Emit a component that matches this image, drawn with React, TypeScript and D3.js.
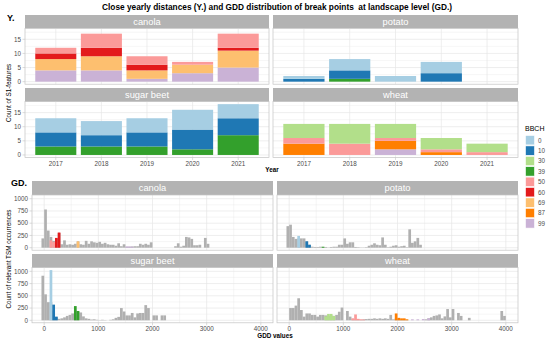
import React from 'react';
import * as d3 from 'd3';

const years = ['2017', '2018', '2019', '2020', '2021'];
const bbchLevels = ['0', '10', '30', '39', '50', '60', '69', '87', '99'];
const bbchColors = ['#a6cee3', '#1f78b4', '#b2df8a', '#33a02c', '#fb9a99', '#e31a1c', '#fdbf6f', '#ff7f00', '#cab2d6'];
const crops = ['canola', 'potato', 'sugar beet', 'wheat'];

// Y. : count of S1-features per year, by BBCH stage
const canolaYearly: Record<string, number[]> = { '50': [2, 5, 3, 1, 5], '60': [2, 3, 2, 0, 1], '69': [4, 5, 3, 3, 6], '99': [4, 4, 1, 3, 5] };
const potatoYearly: Record<string, number[]> = { '0': [1, 4, 2, 4, 0], '10': [1, 3, 0, 3, 0], '39': [0, 1, 0, 0, 0] };
const sugarBeetYearly: Record<string, number[]> = { '0': [5, 5, 5, 7, 5], '10': [5, 4, 5, 7, 6], '39': [3, 3, 3, 2, 7] };
const wheatYearly: Record<string, number[]> = { '30': [5, 7, 5, 4, 3], '50': [2, 4, 1, 1, 1], '87': [4, 0, 3, 1, 0], '99': [0, 0, 2, 0, 0] };

// GD. : TSM occurrences per GDD bin (bins of 50 starting at -50)
const gddBinStart = -50;
const gddBinWidth = 50;
const canolaGdd = [
  190, 780, 350, 220, 140, 180, 300, 70, 150, 60,
  70, 60, 80, 130, 70, 60, 140, 80, 130, 110,
  100, 120, 80, 100, 70, 60, 60, 40, 90, 30,
  70, 20, 20, 25, 30, 30, 80, 60, 80, 60,
  110, 0, 0, 0, 0, 0, 0, 0, 0, 30,
  90, 20, 40, 220, 210, 180, 50, 50, 60, 0,
  200, 80];
const potatoGdd = [
  440, 470, 220, 180, 190, 190, 190, 130, 60, 20,
  15, 15, 20, 15, 15, 5, 15, 20, 20, 60,
  60, 190, 80, 110, 110, 15, 10, 5, 5, 10,
  40, 60, 90, 60, 50, 210, 60, 10, 20, 40,
  50, 20, 30, 40, 10, 375, 100, 130, 200, 60];
const sugarBeetGdd = [
  910, 530, 370, 370, 200, 60, 30, 40, 60, 90,
  110, 140, 200, 170, 160, 80, 40, 30, 15, 20,
  10, 5, 10, 5, 0, 10, 20, 50, 70, 250,
  180, 100, 100, 150, 60, 140, 150, 150, 310, 250,
  0, 100, 100, 0, 100, 100];
const wheatGdd = [
  0, 250, 250, 300, 450, 210, 75, 140, 140, 110,
  110, 75, 110, 110, 100, 90, 100, 90, 110, 175,
  260, 0, 190, 75, 30, 20, 20, 10, 20, 25,
  30, 30, 40, 30, 40, 30, 40, 30, 110, 20,
  40, 30, 20, 20, 10, 0, 0, 0, 0, 0,
  0, 20, 40, 60, 90, 100, 120, 40, 80, 230,
  60, 230, 0, 150, 90, 0, 0, 50, 0, 0,
  0, 0, 0, 0, 0, 0, 0, 0, 0, 190,
  90];

// break points: [BBCH, bin start, count]
const canolaBreaks: [string, number, number][] = [
  ['50', 100, 150], ['50', 150, 120], ['60', 200, 200], ['60', 250, 310],
  ['69', 600, 130], ['99', 1500, 25], ['99', 1550, 25], ['99', 1600, 20]];
const potatoBreaks: [string, number, number][] = [
  ['0', 150, 240], ['10', 300, 130], ['10', 350, 60], ['39', 600, 20]];
const sugarBeetBreaks: [string, number, number][] = [
  ['0', 100, 1025], ['10', 150, 320], ['10', 200, 75], ['39', 550, 290], ['39', 600, 190]];
const wheatBreaks: [string, number, number][] = [
  ['30', 650, 80], ['30', 700, 130], ['30', 750, 130], ['30', 800, 90],
  ['50', 1150, 40], ['50', 1200, 120], ['50', 1250, 30], ['50', 1300, 20], ['50', 1350, 15],
  ['87', 1950, 140], ['87', 2000, 50], ['87', 2050, 40], ['87', 2100, 40], ['87', 2150, 20],
  ['99', 2250, 20], ['99', 2350, 20], ['99', 2450, 25], ['99', 2550, 40]];

const yearlyByCrop = [canolaYearly, potatoYearly, sugarBeetYearly, wheatYearly];
const gddByCrop = [canolaGdd, potatoGdd, sugarBeetGdd, wheatGdd];
const breaksByCrop = [canolaBreaks, potatoBreaks, sugarBeetBreaks, wheatBreaks];

const color = d3.scaleOrdinal<string, string>().domain(bbchLevels).range(bbchColors);
const font = 'Liberation Sans, Arial, sans-serif';
const gridCol = '#e6e6e6';
const borderCol = '#c4c4c4';
const stripCol = '#b3b3b3';
const tickCol = '#4d4d4d';

const topCols = [[25, 269], [273, 518]];
const topRows = [{ strip: 15, y0: 28.3, y1: 84.2 }, { strip: 88, y0: 101.6, y1: 157.5 }];
const botCols = [[32, 273], [277, 518]];
const botRows = [{ strip: 181, y0: 195, y1: 250.2 }, { strip: 254, y0: 267.6, y1: 322.8 }];

function Strip({ x0, x1, y0, y1, label }: any) {
  return (
    <g>
      <rect x={x0} y={y0} width={x1 - x0} height={y1 - y0} fill={stripCol} />
      <text x={(x0 + x1) / 2} y={(y0 + y1) / 2 + 3.3} textAnchor="middle" fill="#fff" fontSize={9.3} fontFamily={font}>{label}</text>
    </g>
  );
}

function YearPanel({ ci }: { ci: number }) {
  const col = topCols[ci % 2];
  const row = topRows[Math.floor(ci / 2)];
  const x = d3.scaleBand().domain(years).range(col as [number, number]).paddingInner(0.1).paddingOuter(0.225);
  const y = d3.scaleLinear().domain([-0.9, 18.9]).range([row.y1, row.y0]);
  const data = yearlyByCrop[ci];
  const keys = [...bbchLevels].reverse().filter(k => data[k]);
  const table = years.map((yr, i) => {
    const o: any = { year: yr };
    keys.forEach(k => { o[k] = data[k][i]; });
    return o;
  });
  const series = d3.stack().keys(keys)(table);
  const showX = Math.floor(ci / 2) === 1;
  const showY = ci % 2 === 0;
  return (
    <g>
      <Strip x0={col[0]} x1={col[1]} y0={row.strip} y1={row.y0} label={crops[ci]} />
      {[2.5, 7.5, 12.5, 17.5].map(v => <line key={'m' + v} x1={col[0]} x2={col[1]} y1={y(v)} y2={y(v)} stroke={gridCol} strokeWidth={0.35} />)}
      {[0, 5, 10, 15].map(v => <line key={'M' + v} x1={col[0]} x2={col[1]} y1={y(v)} y2={y(v)} stroke={gridCol} strokeWidth={0.7} />)}
      {years.map(yr => <line key={yr} x1={x(yr)! + x.bandwidth() / 2} x2={x(yr)! + x.bandwidth() / 2} y1={row.y0} y2={row.y1} stroke={gridCol} strokeWidth={0.7} />)}
      {series.map(s => s.map((d, i) => d[1] > d[0] ? (
        <rect key={s.key + i} x={x(years[i])} width={x.bandwidth()} y={y(d[1])} height={y(d[0]) - y(d[1])} fill={color(s.key)} />
      ) : null))}
      <rect x={col[0]} y={row.y0} width={col[1] - col[0]} height={row.y1 - row.y0} fill="none" stroke={borderCol} strokeWidth={0.7} />
      {showY && [0, 5, 10, 15].map(v => (
        <g key={'t' + v}>
          <line x1={col[0] - 2.5} x2={col[0]} y1={y(v)} y2={y(v)} stroke={borderCol} strokeWidth={0.6} />
          <text x={col[0] - 4} y={y(v) + 2.2} textAnchor="end" fontSize={6.3} fill={tickCol} fontFamily={font}>{v}</text>
        </g>
      ))}
      {showX && years.map(yr => (
        <g key={'x' + yr}>
          <line x1={x(yr)! + x.bandwidth() / 2} x2={x(yr)! + x.bandwidth() / 2} y1={row.y1} y2={row.y1 + 2.5} stroke={borderCol} strokeWidth={0.6} />
          <text x={x(yr)! + x.bandwidth() / 2} y={row.y1 + 8.5} textAnchor="middle" fontSize={6.3} fill={tickCol} fontFamily={font}>{yr}</text>
        </g>
      ))}
    </g>
  );
}

function GddPanel({ ci }: { ci: number }) {
  const col = botCols[ci % 2];
  const row = botRows[Math.floor(ci / 2)];
  const x = d3.scaleLinear().domain([-225, 4225]).range(col as [number, number]);
  const y = d3.scaleLinear().domain([-51, 1076]).range([row.y1, row.y0]);
  const counts = gddByCrop[ci];
  const breaks = breaksByCrop[ci];
  const showX = Math.floor(ci / 2) === 1;
  const showY = ci % 2 === 0;
  return (
    <g>
      <Strip x0={col[0]} x1={col[1]} y0={row.strip} y1={row.y0} label={crops[ci]} />
      {[125, 375, 625, 875].map(v => <line key={'m' + v} x1={col[0]} x2={col[1]} y1={y(v)} y2={y(v)} stroke={gridCol} strokeWidth={0.35} />)}
      {[500, 1500, 2500, 3500].map(v => <line key={'mx' + v} x1={x(v)} x2={x(v)} y1={row.y0} y2={row.y1} stroke={gridCol} strokeWidth={0.35} />)}
      {[0, 250, 500, 750, 1000].map(v => <line key={'M' + v} x1={col[0]} x2={col[1]} y1={y(v)} y2={y(v)} stroke={gridCol} strokeWidth={0.7} />)}
      {[0, 1000, 2000, 3000, 4000].map(v => <line key={'Mx' + v} x1={x(v)} x2={x(v)} y1={row.y0} y2={row.y1} stroke={gridCol} strokeWidth={0.7} />)}
      {counts.map((c, i) => c > 0 ? (
        <rect key={'g' + i} x={x(gddBinStart + i * gddBinWidth)} width={x(gddBinWidth) - x(0)} y={y(c)} height={y(0) - y(c)} fill="#b0b0b0" />
      ) : null)}
      {breaks.map(([b, start, c], i) => (
        <rect key={'b' + i} x={x(start)} width={x(gddBinWidth) - x(0)} y={y(c)} height={y(0) - y(c)} fill={color(b)} />
      ))}
      <rect x={col[0]} y={row.y0} width={col[1] - col[0]} height={row.y1 - row.y0} fill="none" stroke={borderCol} strokeWidth={0.7} />
      {showY && [0, 250, 500, 750, 1000].map(v => (
        <g key={'t' + v}>
          <line x1={col[0] - 2.5} x2={col[0]} y1={y(v)} y2={y(v)} stroke={borderCol} strokeWidth={0.6} />
          <text x={col[0] - 4} y={y(v) + 2.2} textAnchor="end" fontSize={6.3} fill={tickCol} fontFamily={font}>{v}</text>
        </g>
      ))}
      {showX && [0, 1000, 2000, 3000, 4000].map(v => (
        <g key={'x' + v}>
          <line x1={x(v)} x2={x(v)} y1={row.y1} y2={row.y1 + 2.5} stroke={borderCol} strokeWidth={0.6} />
          <text x={x(v)} y={row.y1 + 8.5} textAnchor="middle" fontSize={6.3} fill={tickCol} fontFamily={font}>{v}</text>
        </g>
      ))}
    </g>
  );
}

export default function App() {
  return (
    <svg width={550} height={341} style={{ position: 'absolute', left: 0, top: 0, background: '#fff' }}>
      <rect width={550} height={341} fill="#fff" />
      <text x={277} y={10} textAnchor="middle" fontSize={8.3} fontWeight="bold" fontFamily={font} style={{ whiteSpace: 'pre' }}>
        {'Close yearly distances (Y.) and GDD distribution of break points  at landscape level (GD.)'}
      </text>
      <text x={7} y={21} fontSize={9} fontWeight="bold" fontFamily={font}>Y.</text>
      <text x={11} y={186} fontSize={9} fontWeight="bold" fontFamily={font}>GD.</text>

      {crops.map((c, i) => <YearPanel key={'y' + c} ci={i} />)}
      {crops.map((c, i) => <GddPanel key={'g' + c} ci={i} />)}

      <text transform="translate(11,93) rotate(-90)" textAnchor="middle" fontSize={6.3} fontFamily={font}>Count of S1-features</text>
      <text x={272} y={172} textAnchor="middle" fontSize={6.3} fontWeight="bold" fontFamily={font}>Year</text>
      <text transform="translate(11,259) rotate(-90)" textAnchor="middle" fontSize={6.3} fontFamily={font}>Count of relevant TSM occurrences</text>
      <text x={275} y={338} textAnchor="middle" fontSize={6.3} fontWeight="bold" fontFamily={font}>GDD values</text>

      <g>
        <text x={525} y={131} fontSize={7} fontFamily={font}>BBCH</text>
        {bbchLevels.map((b, i) => (
          <g key={b}>
            <rect x={525.5} y={135.5 + i * 10.4} width={9} height={9.4} fill={color(b)} stroke="#fff" strokeWidth={0.6} />
            <text x={538} y={142.6 + i * 10.4} fontSize={6.3} fill={tickCol} fontFamily={font}>{b}</text>
          </g>
        ))}
      </g>
    </svg>
  );
}
